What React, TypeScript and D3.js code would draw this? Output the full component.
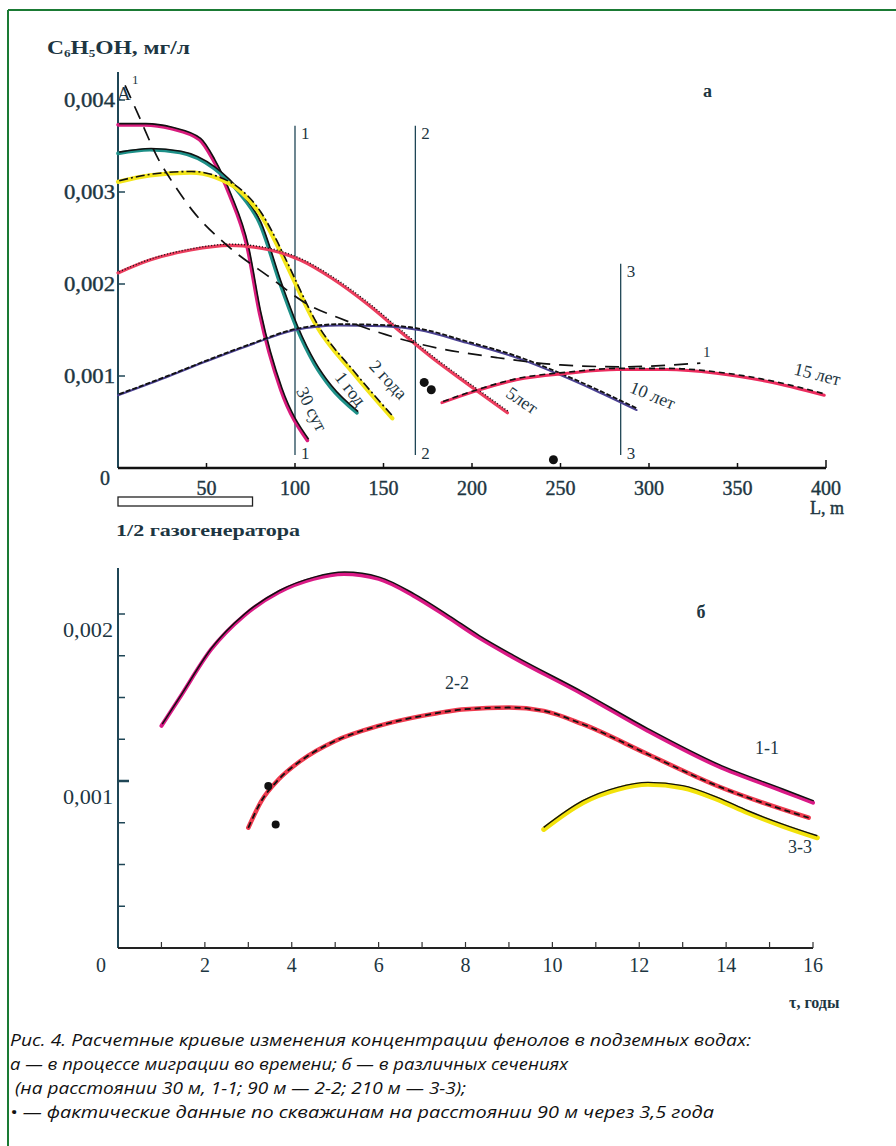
import React from "react";
import * as d3 from "d3";

// ---------- DATA (top chart "а": C vs L, m) ----------
const days30L = [0, 15, 30, 46, 54, 63, 73, 80, 92, 107];
const days30C = [0.00373, 0.00373, 0.00369, 0.00357, 0.00334, 0.00297, 0.0024, 0.00168, 0.00085, 0.0003];

const year1L = [0, 18, 35, 54, 69, 80, 92, 101, 111, 120, 135];
const year1C = [0.00342, 0.00346, 0.00343, 0.00326, 0.00298, 0.00266, 0.00198, 0.00152, 0.00113, 0.00088, 0.0006];

const years2L = [0, 18, 41, 55, 69, 80, 89, 95, 112, 133, 155];
const years2C = [0.00311, 0.00318, 0.00321, 0.00316, 0.00301, 0.00277, 0.00246, 0.00222, 0.00155, 0.00103, 0.00054];

const years5L = [0, 18, 41, 63, 86, 103, 121, 141, 159, 178, 197, 220];
const years5C = [0.00212, 0.00226, 0.00237, 0.00242, 0.00237, 0.00226, 0.00206, 0.00178, 0.00149, 0.00119, 0.00092, 0.0006];

const years10L = [0, 25, 50, 75, 100, 125, 150, 170, 197, 225, 250, 270, 293];
const years10C = [0.00079, 0.00097, 0.00116, 0.00134, 0.0015, 0.00155, 0.00154, 0.0015, 0.00136, 0.0012, 0.00101, 0.00084, 0.00063];

const years15L = [183, 201, 225, 254, 282, 310, 338, 367, 399];
const years15C = [0.00071, 0.00083, 0.00096, 0.00103, 0.00107, 0.00107, 0.00103, 0.00094, 0.00079];

const curve1L = [4, 11, 23, 31, 42, 61, 86, 108, 125, 148, 172, 214, 250, 284, 329];
const curve1C = [0.00416, 0.00386, 0.00335, 0.0031, 0.0028, 0.00243, 0.00207, 0.00177, 0.00163, 0.00147, 0.00134, 0.0012, 0.00112, 0.0011, 0.00114];

const sectionL = [100, 168, 284];
const sectionTopC = [0.00372, 0.00372, 0.00222];
const sectionNames = ["1", "2", "3"];

const wellsTopL = [173, 177, 246];
const wellsTopC = [0.00093, 0.00085, 0.00009];

const topXTicks = [0, 50, 100, 150, 200, 250, 300, 350, 400];
const topYTicks = [0.001, 0.002, 0.003, 0.004];
const topYLabels = ["0,001", "0,002", "0,003", "0,004"];

// ---------- DATA (bottom chart "б": C vs τ, years) ----------
const sec11T = [1.0, 1.4, 2.15, 2.9, 3.7, 4.5, 5.2, 6.0, 6.8, 7.6, 8.3, 9.1, 10.7, 12.2, 13.8, 15.3, 16.0];
const sec11C = [0.00133, 0.00149, 0.00179, 0.00199, 0.00213, 0.00221, 0.00224, 0.00221, 0.00211, 0.00198, 0.00186, 0.00174, 0.00152, 0.0013, 0.00109, 0.00094, 0.00087];

const sec22T = [3.0, 3.3, 3.7, 4.2, 5.0, 6.0, 7.0, 8.0, 9.0, 9.8, 10.7, 12.2, 13.8, 15.9];
const sec22C = [0.00072, 0.00088, 0.00101, 0.00112, 0.00124, 0.00133, 0.00139, 0.00143, 0.00144, 0.00142, 0.00134, 0.00116, 0.00097, 0.00078];

const sec33T = [9.8, 10.7, 11.5, 12.2, 13.0, 13.8, 14.5, 15.3, 16.1];
const sec33C = [0.00071, 0.00087, 0.00095, 0.00098, 0.00096, 0.00089, 0.00081, 0.00073, 0.00066];

const wellsBotT = [3.46, 3.63];
const wellsBotC = [0.00097, 0.00074];

const botXTicks = [0, 2, 4, 6, 8, 10, 12, 14, 16];
const botYMinor = [0.00025, 0.0005, 0.00075, 0.001, 0.00125, 0.0015, 0.00175, 0.002];
const botYLabelVals = [0.001, 0.002];
const botYLabels = ["0,001", "0,002"];

const captionLines = [
  "Рис. 4. Расчетные кривые изменения концентрации фенолов в подземных водах:",
  "а — в процессе миграции во времени; б — в различных сечениях",
  " (на расстоянии 30 м, 1-1; 90 м — 2-2; 210 м — 3-3);",
  "• — фактические данные по скважинам на расстоянии 90 м через 3,5 года",
];
const captionWidths = [741, 558, 456, 704];

// ---------- helpers ----------
const zip = (xs: number[], ys: number[]) => xs.map((x, i) => [x, ys[i]] as [number, number]);

const W = 896;
const H = 1146;
const TEXT = "#1d3642";
const AXIS = "#1f4656";
const SERIF = "'Liberation Serif', 'Times New Roman', serif";

export default function App() {
  const xT = d3.scaleLinear().domain([0, 400]).range([118, 826]);
  const yT = d3.scaleLinear().domain([0, 0.004]).range([468, 100]);
  const xB = d3.scaleLinear().domain([0, 16]).range([118, 813]);
  const yB = d3.scaleLinear().domain([0, 0.001]).range([948, 781]);

  const lineT = d3
    .line<[number, number]>()
    .x((d) => xT(d[0]))
    .y((d) => yT(d[1]))
    .curve(d3.curveMonotoneX);
  const lineB = d3
    .line<[number, number]>()
    .x((d) => xB(d[0]))
    .y((d) => yB(d[1]))
    .curve(d3.curveMonotoneX);

  const topSeries = [
    { d: zip(days30L, days30C), color: "#d81b7c", w: 3.6, dash: "", bw: 1.6 },
    { d: zip(year1L, year1C), color: "#1e9088", w: 3.6, dash: "", bw: 1.6 },
    { d: zip(years2L, years2C), color: "#f4e61a", w: 4.2, dash: "9,3,2,3", bw: 1.6 },
    { d: zip(years5L, years5C), color: "#ec3d5e", w: 3.2, dash: "1,2", bw: 1.4 },
    { d: zip(years10L, years10C), color: "#4b4192", w: 2, dash: "5,2", bw: 1.8 },
    { d: zip(years15L, years15C), color: "#ec2c5e", w: 3, dash: "6,4", bw: 1.6 },
  ];

  const topLabels = [
    { t: "30 сут", x: 310, y: 410, r: 63 },
    { t: "1 год", x: 349, y: 390, r: 52 },
    { t: "2 года", x: 387, y: 381, r: 47 },
    { t: "5лет", x: 521, y: 402, r: 34 },
    { t: "10 лет", x: 652, y: 397, r: 22 },
    { t: "15 лет", x: 817, y: 376, r: 14 },
  ];

  return (
    <svg
      width={W}
      height={H}
      viewBox={`0 0 ${W} ${H}`}
      style={{ position: "absolute", left: 0, top: 0, background: "#fff" }}
    >
      {/* frame */}
      <line x1={8} y1={10} x2={W} y2={10} stroke="#1a7a34" strokeWidth={2} />
      <line x1={8} y1={10} x2={8} y2={H} stroke="#1a7a34" strokeWidth={2} />

      {/* ================= TOP CHART ================= */}
      <g fontFamily={SERIF} fill={TEXT}>
        <text x={47} y={54} fontSize={18} fontWeight="bold" textLength={143} lengthAdjust="spacingAndGlyphs">
          C<tspan fontSize={10} dy={3}>6</tspan>
          <tspan dy={-3}>H</tspan>
          <tspan fontSize={10} dy={3}>5</tspan>
          <tspan dy={-3}>OH, мг/л</tspan>
        </text>
        <text x={703} y={97} fontSize={18} fontWeight="bold">а</text>
        <text x={117} y={100} fontSize={19}>А</text>
        <text x={132} y={84} fontSize={13}>1</text>
      </g>

      {/* axes */}
      <line x1={xT(0)} y1={72} x2={xT(0)} y2={yT(0)} stroke={AXIS} strokeWidth={2} />
      <line x1={xT(0)} y1={yT(0)} x2={xT(400)} y2={yT(0)} stroke="#111" strokeWidth={2.4} />
      {topXTicks.slice(1).map((v) => (
        <line key={"xt" + v} x1={xT(v)} x2={xT(v)} y1={yT(0)} y2={yT(0) - (v === 400 ? 8 : 5)} stroke="#111" strokeWidth={1.5} />
      ))}
      {topYTicks.map((v) => (
        <line key={"yt" + v} x1={xT(0)} x2={xT(0) + 7} y1={yT(v)} y2={yT(v)} stroke={AXIS} strokeWidth={1.5} />
      ))}
      <g fontFamily={SERIF} fill={TEXT} fontSize={20} stroke={TEXT} strokeWidth={0.4}>
        {topYTicks.map((v, i) => (
          <text key={"yl" + v} x={115} y={yT(v) + 7} textAnchor="end" textLength={51} lengthAdjust="spacingAndGlyphs">
            {topYLabels[i]}
          </text>
        ))}
        <text x={105} y={485} textAnchor="middle">0</text>
        {topXTicks.slice(1).map((v) => (
          <text key={"xl" + v} x={xT(v)} y={495} textAnchor="middle">
            {v}
          </text>
        ))}
        <text x={810} y={514} fontSize={18}>L, m</text>
        <text x={116} y={536} fontSize={17} fontWeight="bold" strokeWidth={0} textLength={184} lengthAdjust="spacingAndGlyphs">1/2 газогенератора</text>
      </g>
      <rect x={xT(0)} y={497} width={xT(76) - xT(0)} height={9} fill="none" stroke="#222" strokeWidth={1.3} />

      {/* section lines */}
      {sectionL.map((L, i) => (
        <g key={"sec" + i}>
          <line x1={xT(L)} x2={xT(L)} y1={yT(sectionTopC[i])} y2={455} stroke={AXIS} strokeWidth={1.3} />
          <text x={xT(L) + 6} y={yT(sectionTopC[i]) + 13} fontFamily={SERIF} fontSize={17} fill={TEXT}>
            {sectionNames[i]}
          </text>
          <text x={xT(L) + 6} y={459} fontFamily={SERIF} fontSize={17} fill={TEXT}>
            {sectionNames[i]}
          </text>
        </g>
      ))}

      {/* series */}
      {topSeries.map((s, i) => (
        <g key={"ts" + i}>
          <path d={lineT(s.d) || ""} fill="none" stroke={s.color} strokeWidth={s.w} strokeLinecap="round" />
          <path
            d={lineT(s.d) || ""}
            fill="none"
            stroke="#111"
            strokeWidth={s.bw}
            strokeDasharray={s.dash || undefined}
            transform="translate(1.2,-1.2)"
          />
        </g>
      ))}
      <path d={lineT(zip(curve1L, curve1C)) || ""} fill="none" stroke="#111" strokeWidth={1.7} strokeDasharray="14,9" />
      <text x={703} y={357} fontFamily={SERIF} fontSize={15} fill={TEXT}>1</text>

      {wellsTopL.map((L, i) => (
        <circle key={"wt" + i} cx={xT(L)} cy={yT(wellsTopC[i])} r={4.5} fill="#111" />
      ))}

      <g fontFamily={SERIF} fill={TEXT} fontSize={18}>
        {topLabels.map((l) => (
          <text key={l.t} x={l.x} y={l.y} textAnchor="middle" dominantBaseline="middle" transform={`rotate(${l.r},${l.x},${l.y})`}>
            {l.t}
          </text>
        ))}
      </g>

      {/* ================= BOTTOM CHART ================= */}
      <line x1={xB(0)} y1={568} x2={xB(0)} y2={yB(0)} stroke={AXIS} strokeWidth={2} />
      <line x1={xB(0)} y1={yB(0)} x2={xB(16)} y2={yB(0)} stroke="#222" strokeWidth={2} />
      {d3.range(1, 17).map((v) => (
        <line key={"bx" + v} x1={xB(v)} x2={xB(v)} y1={yB(0)} y2={yB(0) - 6} stroke="#333" strokeWidth={1.2} />
      ))}
      {botYMinor.map((v) => (
        <line key={"by" + v} x1={xB(0)} x2={xB(0) + (v === 0.001 ? 11 : 7)} y1={yB(v)} y2={yB(v)} stroke={AXIS} strokeWidth={v === 0.001 ? 2.5 : 1.5} />
      ))}
      <g fontFamily={SERIF} fill={TEXT} fontSize={20}>
        {botYLabelVals.map((v, i) => (
          <text key={"byl" + v} x={113} y={yB(v) + 23} textAnchor="end" textLength={50} lengthAdjust="spacingAndGlyphs">
            {botYLabels[i]}
          </text>
        ))}
        {botXTicks.map((v) => (
          <text key={"bxl" + v} x={v === 0 ? 101 : xB(v)} y={972} textAnchor="middle">
            {v}
          </text>
        ))}
        <text x={789} y={1008} fontWeight="bold" fontSize={16}>τ, годы</text>
        <text x={701} y={618} fontWeight="bold" fontSize={18} textAnchor="middle">б</text>
        <text x={457} y={689} fontSize={18} textAnchor="middle">2-2</text>
        <text x={767} y={754} fontSize={18} textAnchor="middle">1-1</text>
        <text x={800} y={853} fontSize={18} textAnchor="middle">3-3</text>
      </g>

      {/* 1-1 */}
      <path d={lineB(zip(sec11T, sec11C)) || ""} fill="none" stroke="#da1a86" strokeWidth={4} strokeLinecap="round" />
      <path d={lineB(zip(sec11T, sec11C)) || ""} fill="none" stroke="#111" strokeWidth={1.5} transform="translate(0.8,-1.8)" />
      {/* 2-2 */}
      <path d={lineB(zip(sec22T, sec22C)) || ""} fill="none" stroke="#ee3a4e" strokeWidth={4.5} strokeLinecap="round" />
      <path d={lineB(zip(sec22T, sec22C)) || ""} fill="none" stroke="#111" strokeWidth={1.8} strokeDasharray="6,4" />
      {/* 3-3 */}
      <path d={lineB(zip(sec33T, sec33C)) || ""} fill="none" stroke="#f2e20a" strokeWidth={5} strokeLinecap="round" />
      <path d={lineB(zip(sec33T, sec33C)) || ""} fill="none" stroke="#111" strokeWidth={1.4} transform="translate(0,-2)" />

      {wellsBotT.map((t, i) => (
        <circle key={"wb" + i} cx={xB(t)} cy={yB(wellsBotC[i])} r={4} fill="#111" />
      ))}

      {/* caption */}
      <g fontFamily="'Open Sans', 'DejaVu Sans', sans-serif" fontStyle="italic" fontSize={17} fill="#111">
        {captionLines.map((l, i) => (
          <text
            key={"cap" + i}
            x={10}
            y={1046 + i * 24}
            textLength={captionWidths[i]}
            lengthAdjust="spacingAndGlyphs"
            style={{ whiteSpace: "pre" }}
          >
            {l}
          </text>
        ))}
      </g>
    </svg>
  );
}
